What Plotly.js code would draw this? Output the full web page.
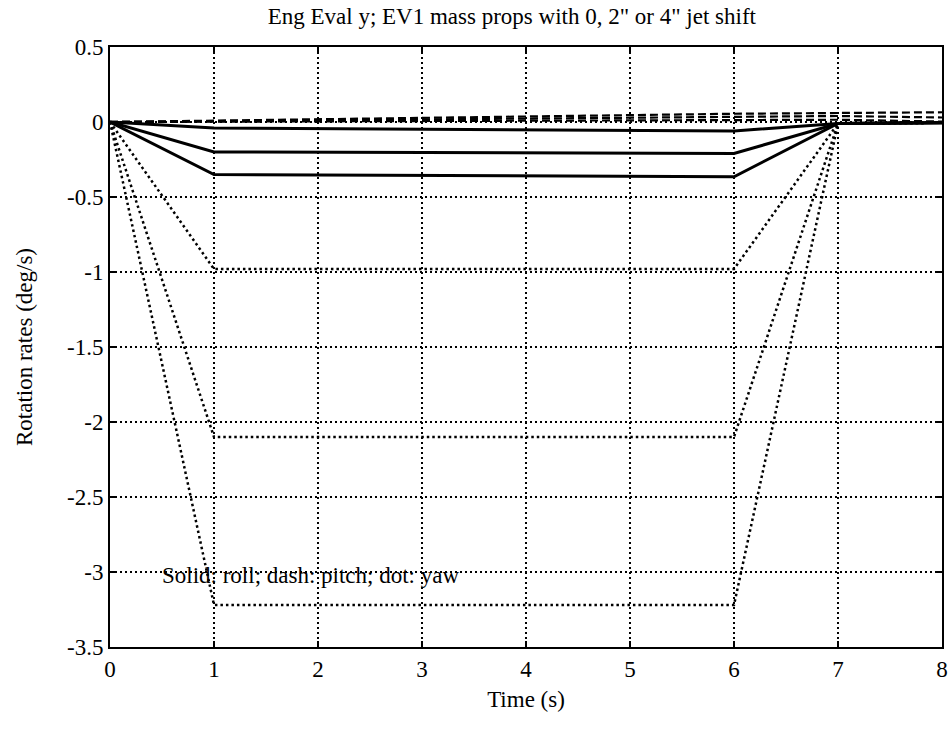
<!DOCTYPE html>
<html>
<head>
<meta charset="utf-8">
<script src="https://cdn.plot.ly/plotly-3.0.1.min.js"></script>
<style>
  html, body { margin: 0; padding: 0; background: #fff; }
  #chart { width: 951px; height: 736px; }
</style>
</head>
<body>
<div id="chart"></div>
<script>
// ---- data ----
const TIME_KNOTS = [0, 1, 6, 7, 8];          // s, breakpoints for roll and yaw traces
const ROLL_0 = [0, -0.04, -0.06, -0.01, -0.005];
const ROLL_2 = [0, -0.20, -0.21, -0.01, -0.005];
const ROLL_4 = [0, -0.35, -0.365, -0.01, -0.005];
const YAW_0 = [0, -0.98, -0.98, -0.01, -0.005];
const YAW_2 = [0, -2.10, -2.10, -0.01, -0.005];
const YAW_4 = [0, -3.22, -3.22, -0.01, -0.005];

const PITCH_TIME = [0, 1, 2, 3, 4, 5, 6, 7, 8];
const PITCH_0 = [0, 0.002, 0.005, 0.008, 0.010, 0.012, 0.014, 0.015, 0.003];
const PITCH_2 = [0, 0.005, 0.012, 0.020, 0.025, 0.030, 0.035, 0.040, 0.030];
const PITCH_4 = [0, 0.010, 0.020, 0.030, 0.040, 0.050, 0.055, 0.060, 0.065];

const X_TICK_VALS = [0, 1, 2, 3, 4, 5, 6, 7, 8];
const X_TICK_TEXT = ['0', '1', '2', '3', '4', '5', '6', '7', '8'];
const Y_TICK_VALS = [0.5, 0, -0.5, -1, -1.5, -2, -2.5, -3, -3.5];
const Y_TICK_TEXT = ['0.5', '0', '-0.5', '-1', '-1.5', '-2', '-2.5', '-3', '-3.5'];

const TITLE = 'Eng Eval y; EV1 mass props with 0, 2" or 4" jet shift';
const X_TITLE = 'Time (s)';
const Y_TITLE = 'Rotation rates (deg/s)';
const NOTE = 'Solid: roll; dash: pitch; dot: yaw';

// ---- traces ----
const FONT = 'Liberation Serif, Times New Roman, serif';
function line(x, y, dash, width) {
  return { type: 'scatter', mode: 'lines', x: x, y: y,
           line: { color: '#000', width: width, dash: dash },
           hoverinfo: 'skip', showlegend: false };
}
const data = [
  line(TIME_KNOTS, YAW_0, '2.5px,3px', 2.5),
  line(TIME_KNOTS, YAW_2, '2.5px,3px', 2.5),
  line(TIME_KNOTS, YAW_4, '2.5px,3px', 2.5),
  line(PITCH_TIME, PITCH_0, '8px,4px', 2.2),
  line(PITCH_TIME, PITCH_2, '8px,4px', 2.2),
  line(PITCH_TIME, PITCH_4, '8px,4px', 2.2),
  line(TIME_KNOTS, ROLL_0, 'solid', 3),
  line(TIME_KNOTS, ROLL_2, 'solid', 3),
  line(TIME_KNOTS, ROLL_4, 'solid', 3)
];

const axisCommon = {
  showline: true, linecolor: '#000', linewidth: 2, mirror: 'ticks',
  ticks: 'inside', ticklen: 6, tickwidth: 2, tickcolor: '#000',
  showgrid: true, gridcolor: '#000', gridwidth: 1.6, griddash: '2px,3px',
  zeroline: false, tickfont: { family: FONT, size: 23, color: '#000' }
};

const layout = {
  width: 951, height: 736,
  margin: { l: 110, r: 9, t: 47, b: 89 },
  paper_bgcolor: '#fff', plot_bgcolor: '#fff',
  font: { family: FONT, color: '#000' },
  title: { text: TITLE, font: { family: FONT, size: 23, color: '#000' },
           xref: 'paper', x: 0.483, xanchor: 'center',
           yref: 'container', y: 1 - 16 / 736, yanchor: 'middle' },
  xaxis: Object.assign({}, axisCommon, {
    range: [0, 8], tickvals: X_TICK_VALS, ticktext: X_TICK_TEXT,
    title: { text: X_TITLE, font: { family: FONT, size: 23, color: '#000' }, standoff: 10 }
  }),
  yaxis: Object.assign({}, axisCommon, {
    range: [-3.5, 0.5], tickvals: Y_TICK_VALS, ticktext: Y_TICK_TEXT,
    title: { text: Y_TITLE, font: { family: FONT, size: 23, color: '#000' }, standoff: 28 }
  }),
  annotations: [{
    text: NOTE, x: 0.48, y: -3.02, xref: 'x', yref: 'y',
    xanchor: 'left', yanchor: 'middle', showarrow: false,
    font: { family: FONT, size: 23, color: '#000' }
  }]
};

Plotly.newPlot('chart', data, layout, { displayModeBar: false, staticPlot: true });
</script>
</body>
</html>
